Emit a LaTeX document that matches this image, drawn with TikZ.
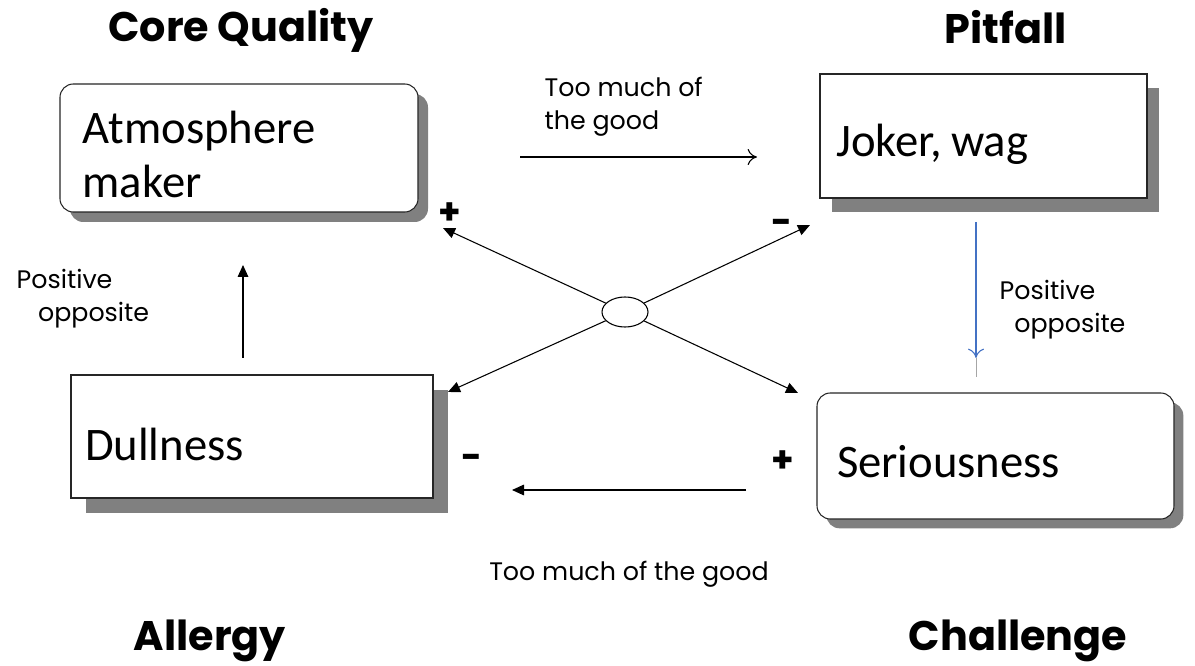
\documentclass[tikz,border=0pt]{standalone}
\usepackage{fontspec}
\setmainfont{Carlito}
\newfontfamily\handfont{Poppins}
\usetikzlibrary{arrows.meta,shadows,shapes.geometric}
\frenchspacing

\begin{document}
\begin{tikzpicture}[x=0.75pt,y=-0.75pt,
  box/.style={draw=black!85, fill=white, line width=0.8pt,
    font=\fontsize{35}{41}\selectfont, align=left, anchor=center},
  roundbox/.style={box, rounded corners=10pt},
  heading/.style={font=\handfont\bfseries\fontsize{31}{34}\selectfont, anchor=base},
  note/.style={font=\handfont\fontsize{19}{25}\selectfont, align=left},
  sign/.style={font=\handfont\bfseries\fontsize{27}{28}\selectfont},
  fat/.style={line width=0.8pt, -{Triangle[length=9pt,width=8pt]}},
  thin/.style={line width=0.8pt, -{To[length=7pt,width=12pt]}}
]
\useasboundingbox (0,0) rectangle (1195,666);

% quadrant headings
\node[heading] (hcore) at (241,42) {Core Quality};
\node[heading] (hpit) at (1006,44) {Pitfall};
\node[heading] (hall) at (210,650) {Allergy};
\node[heading] (hcha) at (1018,650) {Challenge};

% the four quality boxes
\node[roundbox, minimum width=268.5pt, minimum height=96pt,
  text width=234.5pt,
  drop shadow={shadow xshift=7.5pt, shadow yshift=-7.5pt, fill=black!50, opacity=1}]
  (core) at (239,148) {\rule{0pt}{34pt}Atmosphere\\maker};
\node[box, minimum width=245.25pt, minimum height=93pt,
  text width=221pt, text height=31.5pt, text depth=0pt,
  drop shadow={shadow xshift=9pt, shadow yshift=-10.5pt, fill=black!50, opacity=1}]
  (pit) at (983.5,136) {Joker,\kern-0.15em{} wag};
\node[box, minimum width=271.5pt, minimum height=92.25pt,
  text width=250.5pt, text height=35.25pt, text depth=0pt,
  drop shadow={shadow xshift=11.25pt, shadow yshift=-11.25pt, fill=black!50, opacity=1}]
  (all) at (252,436.5) {Dullness};
\node[roundbox, minimum width=267.75pt, minimum height=94.5pt,
  text width=237.75pt, text height=31.5pt, text depth=0pt,
  drop shadow={shadow xshift=7pt, shadow yshift=-7pt, fill=black!50, opacity=1}]
  (cha) at (995.5,456) {Seriousness};

% arrow end points
\coordinate (topL) at (520,157);
\coordinate (topR) at (757,157);
\coordinate (botR) at (746,490);
\coordinate (botL) at (512,490);
\coordinate (leftB) at (243,358);
\coordinate (leftT) at (243,265);
\coordinate (rightT) at (976,222);
\coordinate (rightB) at (976,358);
\coordinate (rightTail) at (976,377);

% horizontal and vertical arrows
\draw[thin] (topL) -- (topR);
\draw[fat] (botR) -- (botL);
\draw[fat] (leftB) -- (leftT);
\draw[black!35, line width=0.5pt] (rightB) -- (rightTail);
\draw[thin, draw={rgb,255:red,68;green,114;blue,196}] (rightT) -- (rightB);

% central cross
\node[draw, ellipse, fill=white, line width=0.8pt, minimum width=34.5pt, minimum height=22.5pt, inner sep=0pt]
  (hub) at (625,312) {};
\coordinate (xUL) at (443,228);
\coordinate (xUR) at (810,225);
\coordinate (xLL) at (448,392);
\coordinate (xLR) at (798,393);
\draw[fat] (hub) -- (xUL);
\draw[fat] (hub) -- (xUR);
\draw[fat] (hub) -- (xLL);
\draw[fat] (hub) -- (xLR);

% signs
\node[sign] (pUL) at (450,214) {+};
\node[sign] (mUR) at (782,227) {-};
\node[sign] (mB) at (472,462) {-};
\node[sign] (pB) at (783,462) {+};

% arrow labels (base anchor sits on the last line)
\node[note, anchor=base west] (ltop) at (540,130) {Too much of\\the good};
\node[note, anchor=base] (lbot) at (629,580) {Too much of the good};
\node[note, anchor=base west] (lleft) at (12,322) {Positive\\\hspace*{16pt}opposite};
\node[note, anchor=base west] (lright) at (995,333) {Positive\\\hspace*{11pt}opposite};
\end{tikzpicture}
\end{document}
